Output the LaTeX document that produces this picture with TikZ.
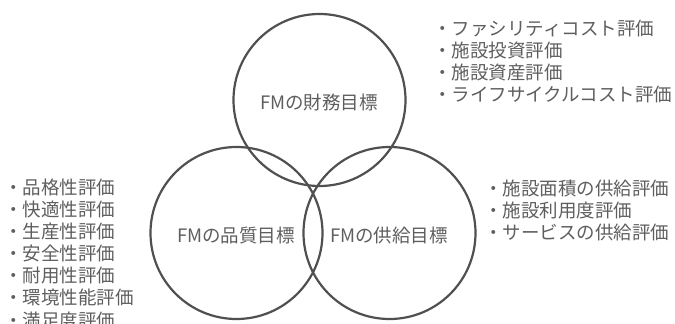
\documentclass[tikz,border=0pt]{standalone}
\usepackage{fontspec}
\setmainfont{Noto Sans CJK JP}
\definecolor{txt}{HTML}{5E5E5E}
\definecolor{ring}{HTML}{505050}
\begin{document}
\begin{tikzpicture}[x=1pt,y=-1pt,
  ringnode/.style={circle,draw=ring,line width=2.2pt,minimum size=172pt,inner sep=0pt},
  label/.style={text=txt,font=\fontsize{18.5}{22}\selectfont,inner sep=0pt},
  item/.style={text=txt,font=\fontsize{18.5}{22}\selectfont,inner sep=0pt,anchor=base west}]
\useasboundingbox (0,0) rectangle (675,324);
\node[ringnode] (fin) at (319.5,100) {};
\node[ringnode] (qual) at (236.5,233) {};
\node[ringnode] (sup) at (389.5,233) {};
\node[label] (finl) at (319,102) {FMの財務目標};
\node[label] (quall) at (236,235) {FMの品質目標};
\node[label] (supl) at (389,235) {FMの供給目標};
% top-right list
\node[item] (t1) at (433,35) {・ファシリティコスト評価};
\node[item] (t2) at (433,57) {・施設投資評価};
\node[item] (t3) at (433,79) {・施設資産評価};
\node[item] (t4) at (433,101) {・ライフサイクルコスト評価};
% left list
\node[item] (l1) at (4,194) {・品格性評価};
\node[item] (l2) at (4,216) {・快適性評価};
\node[item] (l3) at (4,238) {・生産性評価};
\node[item] (l4) at (4,260) {・安全性評価};
\node[item] (l5) at (4,282) {・耐用性評価};
\node[item] (l6) at (4,304) {・環境性能評価};
\node[item] (l7) at (4,327) {・満足度評価};
% right list
\node[item] (r1) at (484,195) {・施設面積の供給評価};
\node[item] (r2) at (484,217) {・施設利用度評価};
\node[item] (r3) at (484,239) {・サービスの供給評価};
\end{tikzpicture}
\end{document}
